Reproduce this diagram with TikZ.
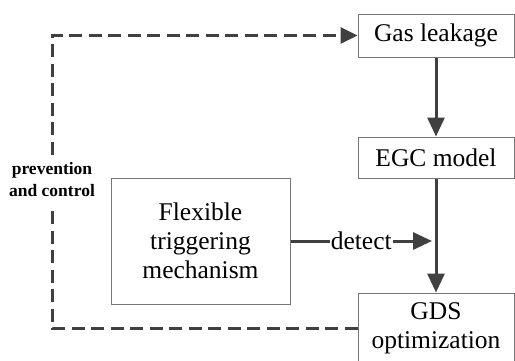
\documentclass[tikz,border=0pt]{standalone}
\usepackage{fontspec}
\setmainfont{LiberationSerif}[Extension=.ttf, UprightFont=*-Regular, BoldFont=*-Bold, ItalicFont=*-Italic, BoldItalicFont=*-BoldItalic]
\usetikzlibrary{arrows.meta}
\definecolor{linegray}{HTML}{404040}
\definecolor{boxgray}{HTML}{767676}
\tikzset{
  blockbox/.style={draw=boxgray, line width=1pt, inner sep=0pt, align=center,
    font=\rmfamily\fontsize{25.5}{29}\selectfont},
  flowarrow/.style={draw=linegray, line width=3pt, -{Triangle[length=19pt,width=17pt]}},
  feedback/.style={draw=linegray, line width=3pt, dash pattern=on 13pt off 6.5pt},
  sidelabel/.style={align=center, inner xsep=0pt, inner ysep=8pt,
    font=\rmfamily\fontsize{17.5}{22}\selectfont\bfseries},
  edgelabel/.style={fill=white, inner sep=1pt, font=\rmfamily\fontsize{25.5}{29}\selectfont}
}
\begin{document}
\begin{tikzpicture}[x=1pt,y=-1pt]
\useasboundingbox (0,0) rectangle (515,360);

% blocks
\node[blockbox, minimum width=156pt, minimum height=43pt] (gas) at (436,35.5) {Gas leakage};
\node[blockbox, minimum width=156pt, minimum height=41pt] (egc) at (436,157.5) {EGC model};
\node[blockbox, minimum width=179pt, minimum height=126pt] (flex) at (200.5,241) {Flexible\\triggering\\mechanism};
\node[blockbox, minimum width=156pt, minimum height=70pt] (gds) at (436,328) {GDS\\optimization};

% feedback label
\node[sidelabel] (pc) at (52,180) {prevention\\and control};

% main flow
\draw[flowarrow] (gas.south) -- (egc.north);
\draw[flowarrow] (egc.south) -- (gds.north);

% detection input
\coordinate (hit) at (432,241);
\draw[flowarrow] (flex.east) -- node[edgelabel] (det) {detect} (hit);

% feedback loop
\draw[feedback] (gds.west) -| (pc.south);
\draw[feedback, -{Triangle[length=17pt,width=16pt]}] (pc.north) |- (gas.west);
\end{tikzpicture}
\end{document}
